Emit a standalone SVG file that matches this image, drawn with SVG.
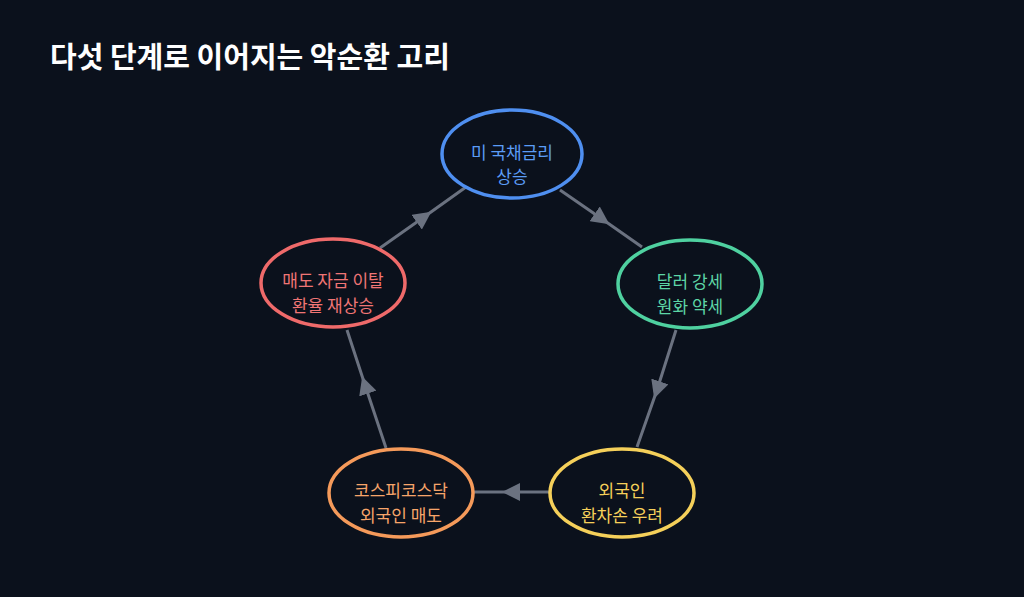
<svg xmlns="http://www.w3.org/2000/svg" width="1024" height="597" viewBox="0 0 1024 597">
<defs>
<marker id="ah" viewBox="0 0 10 10" refX="5" refY="5" markerWidth="6" markerHeight="6" orient="auto" markerUnits="strokeWidth"><path d="M0,0 L10,5 L0,10 z" fill="#6b7280"/></marker>
</defs>
<style>
.t{font-family:"Noto Sans CJK KR","Noto Sans",sans-serif;font-size:17px;text-anchor:middle}
.e{fill:none;stroke-width:3.5}
.c{stroke:#6b7280;stroke-width:3;fill:none;marker-mid:url(#ah)}
</style>
<rect width="1024" height="597" fill="#0b111c"/>
<text x="50" y="68" font-family="'Noto Sans CJK KR',sans-serif" font-size="29" font-weight="bold" fill="#ffffff">다섯 단계로 이어지는 악순환 고리</text>
<g id="connectors">
<polyline class="c" points="560,190 602,219 642,247"/>
<polyline class="c" points="676,330 657,390 637,447"/>
<polyline class="c" points="549,492 511,492 474,492"/>
<polyline class="c" points="386,448 365,385 347,330"/>
<polyline class="c" points="380,248 424,217 466,187"/>
</g>
<g id="n1"><ellipse class="e" cx="512" cy="154" rx="70" ry="44" stroke="#4f8ff0"/><text class="t" fill="#5b9cf6" x="512" y="159">미 국채금리</text><text class="t" fill="#5b9cf6" x="512" y="183">상승</text></g>
<g id="n2"><ellipse class="e" cx="690" cy="284" rx="72" ry="44" stroke="#4fd1a0"/><text class="t" fill="#5dd6a6" x="690" y="288">달러 강세</text><text class="t" fill="#5dd6a6" x="690" y="313">원화 약세</text></g>
<g id="n3"><ellipse class="e" cx="622" cy="493" rx="72" ry="44" stroke="#f5d05a"/><text class="t" fill="#f5d05a" x="622" y="497">외국인</text><text class="t" fill="#f5d05a" x="622" y="522">환차손 우려</text></g>
<g id="n4"><ellipse class="e" cx="401" cy="493" rx="72" ry="44" stroke="#f59a5a"/><text class="t" fill="#f7a56a" x="401" y="497">코스피코스닥</text><text class="t" fill="#f7a56a" x="401" y="522">외국인 매도</text></g>
<g id="n5"><ellipse class="e" cx="333" cy="283" rx="72" ry="44" stroke="#ef6a6a"/><text class="t" fill="#f07575" x="333" y="287">매도 자금 이탈</text><text class="t" fill="#f07575" x="333" y="312">환율 재상승</text></g>
</svg>
